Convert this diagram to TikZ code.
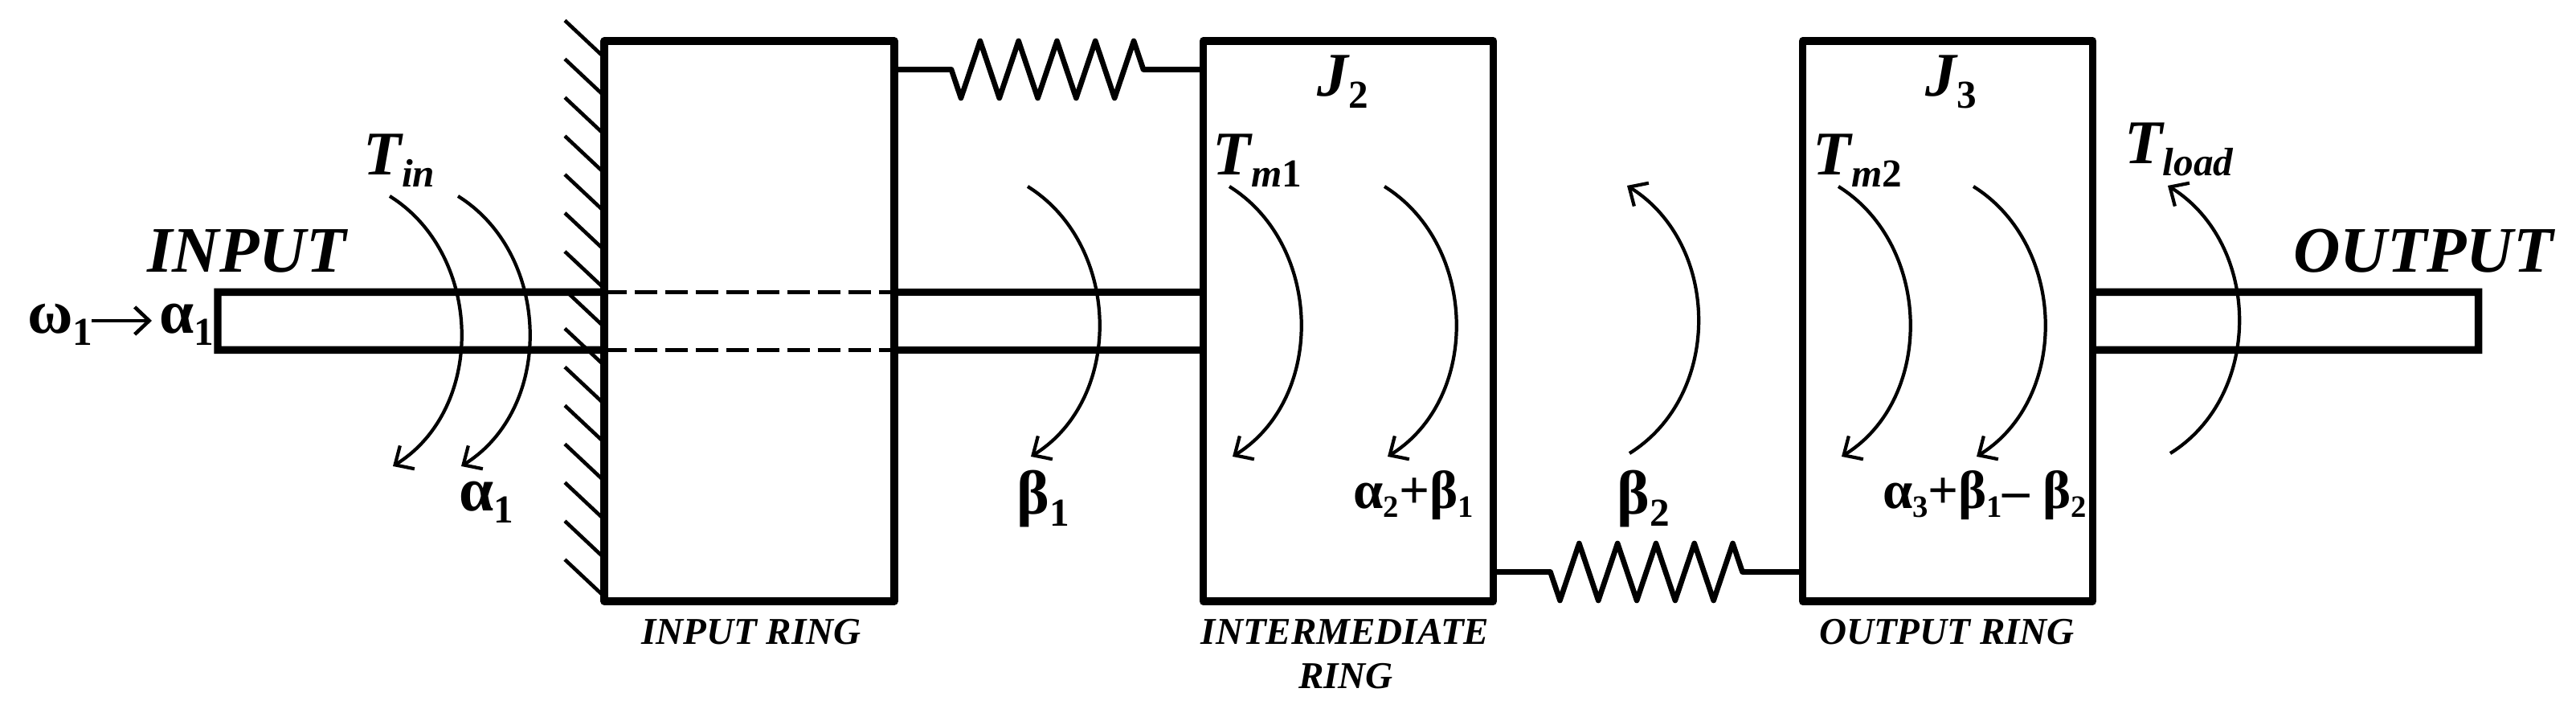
\documentclass[tikz,border=0pt]{standalone}
\usepackage{fontspec}
\setmainfont{Liberation Serif}
\usetikzlibrary{arrows.meta, decorations.pathmorphing}
\newcommand{\subA}[1]{\raisebox{-4pt}{\fontsize{14}{14}\selectfont #1}}
\newcommand{\subB}[1]{\raisebox{-3pt}{\fontsize{11}{11}\selectfont #1}}
\tikzset{
    ringbox/.style={draw,line width=2.7pt,line join=round,minimum width=3.61cm,minimum height=6.97cm,inner sep=0pt,outer sep=0pt},
    shaft/.style={line width=2.7pt,line join=miter},
    inshaft/.style={line width=1.4pt,dash pattern=on 8pt off 2.8pt},
    hatch/.style={line width=1.3pt},
    spring/.style={line width=1.9pt,line join=round,decorate,decoration={zigzag,mirror,segment length=4.78mm,amplitude=3.55mm,pre length=7.1mm,post length=7.3mm}},
    torque/.style={line width=1.2pt,out=-32,in=32,distance=1.37cm},
    barb/.style={-{Straight Barb[length=1.8mm,width=3.4mm]}},
    txt/.style={inner sep=0pt,outer sep=0pt,anchor=base,font=\fontsize{22}{24}\selectfont\bfseries},
    itxt/.style={txt,font=\fontsize{22}{24}\selectfont\bfseries\itshape},
    endtxt/.style={txt,font=\fontsize{23}{25}\selectfont\bfseries\itshape},
    small/.style={txt,font=\fontsize{19}{22}\selectfont\bfseries},
    ringtxt/.style={txt,font=\fontsize{13.4}{16}\selectfont\bfseries\itshape}
}
\begin{document}
\begin{tikzpicture}
	\useasboundingbox (0,0) rectangle (32.06,8.87);
	% wall
	\foreach \i in {0,...,14}
		\draw[hatch] (7.03,8.615-0.479*\i) -- ++(0.49,-0.46);
	% rings
	\node[ringbox] (inring) at (9.325,4.875) {};
	\node[ringbox] (midring) at (16.78,4.875) {};
	\node[ringbox] (outring) at (24.24,4.875) {};
	% shafts
	\draw[shaft] ([yshift=3.6mm]inring.west) -- ++(-4.81,0) -- ++(0,-0.72) -- ([yshift=-3.6mm]inring.west);
	\draw[inshaft] ([yshift=3.6mm]inring.west) -- ([yshift=3.6mm]inring.east);
	\draw[inshaft] ([yshift=-3.6mm]inring.west) -- ([yshift=-3.6mm]inring.east);
	\draw[shaft] ([yshift=3.6mm]inring.east) -- ([yshift=3.6mm]midring.west);
	\draw[shaft] ([yshift=-3.6mm]inring.east) -- ([yshift=-3.6mm]midring.west);
	\draw[shaft] ([yshift=3.6mm]outring.east) -- ++(4.8,0) -- ++(0,-0.72) -- ([yshift=-3.6mm]outring.east);
	% springs
	\draw[spring] ([yshift=-3.55mm]inring.north east) -- ([yshift=-3.55mm]midring.north west);
	\draw[spring] ([yshift=3.65mm]midring.south east) -- ([yshift=3.65mm]outring.south west);
	% torques going down
	\foreach \x/\y in {4.85/6.43,5.70/6.43,12.79/6.55,15.30/6.55,17.23/6.55,22.88/6.55,24.56/6.55}
		\draw[torque,barb] (\x,\y) to (\x+0.04,\y-3.36);
	% torques going up
	\foreach \x in {20.28,27.01}
		\draw[torque,barb,out=32,in=-32] (\x,3.23) to (\x-0.03,6.56);
	% labels
	\node[endtxt] (inputtxt) at (3.07,5.48) {INPUT};
	\node[endtxt] (outputtxt) at (30.16,5.48) {OUTPUT};
	\node[txt] (omega) at (0.75,4.72) {ω\subA{1}};
	\node[txt] (alpha) at (2.32,4.72) {α\subA{1}};
	\coordinate (arrowtail) at (1.14,4.88);
	\coordinate (arrowhead) at (1.89,4.88);
	\draw[line width=1.3pt,barb] (arrowtail) -- (arrowhead);
	\node[itxt] (tin) at (4.97,6.69) {T\subA{in}};
	\node[itxt] (jtwo) at (16.71,7.67) {J\subA{\upshape 2}};
	\node[itxt] (jthree) at (24.28,7.67) {J\subA{\upshape 3}};
	\node[itxt] (tmone) at (15.65,6.69) {T\subA{m\upshape 1}};
	\node[itxt] (tmtwo) at (23.12,6.69) {T\subA{m\upshape 2}};
	\node[itxt] (tload) at (27.12,6.83) {T\subA{load}};
	\node[txt] (alphaone) at (6.05,2.51) {α\subA{1}};
	\node[txt] (betaone) at (12.98,2.47) {β\subA{1}};
	\node[txt] (betatwo) at (20.45,2.47) {β\subA{2}};
	\node[small] (midsum) at (17.59,2.54) {α\subB{2}+β\subB{1}};
	\node[small] (outsum) at (24.70,2.54) {α\subB{3}+β\subB{1}– β\subB{2}};
	\node[ringtxt] (inringtxt) at (9.35,0.85) {INPUT RING};
	\node[ringtxt] (midringtxt) at (16.74,0.85) {INTERMEDIATE};
	\node[ringtxt] (midringtxtb) at (16.75,0.30) {RING};
	\node[ringtxt] (outringtxt) at (24.23,0.85) {OUTPUT RING};
\end{tikzpicture}
\end{document}
